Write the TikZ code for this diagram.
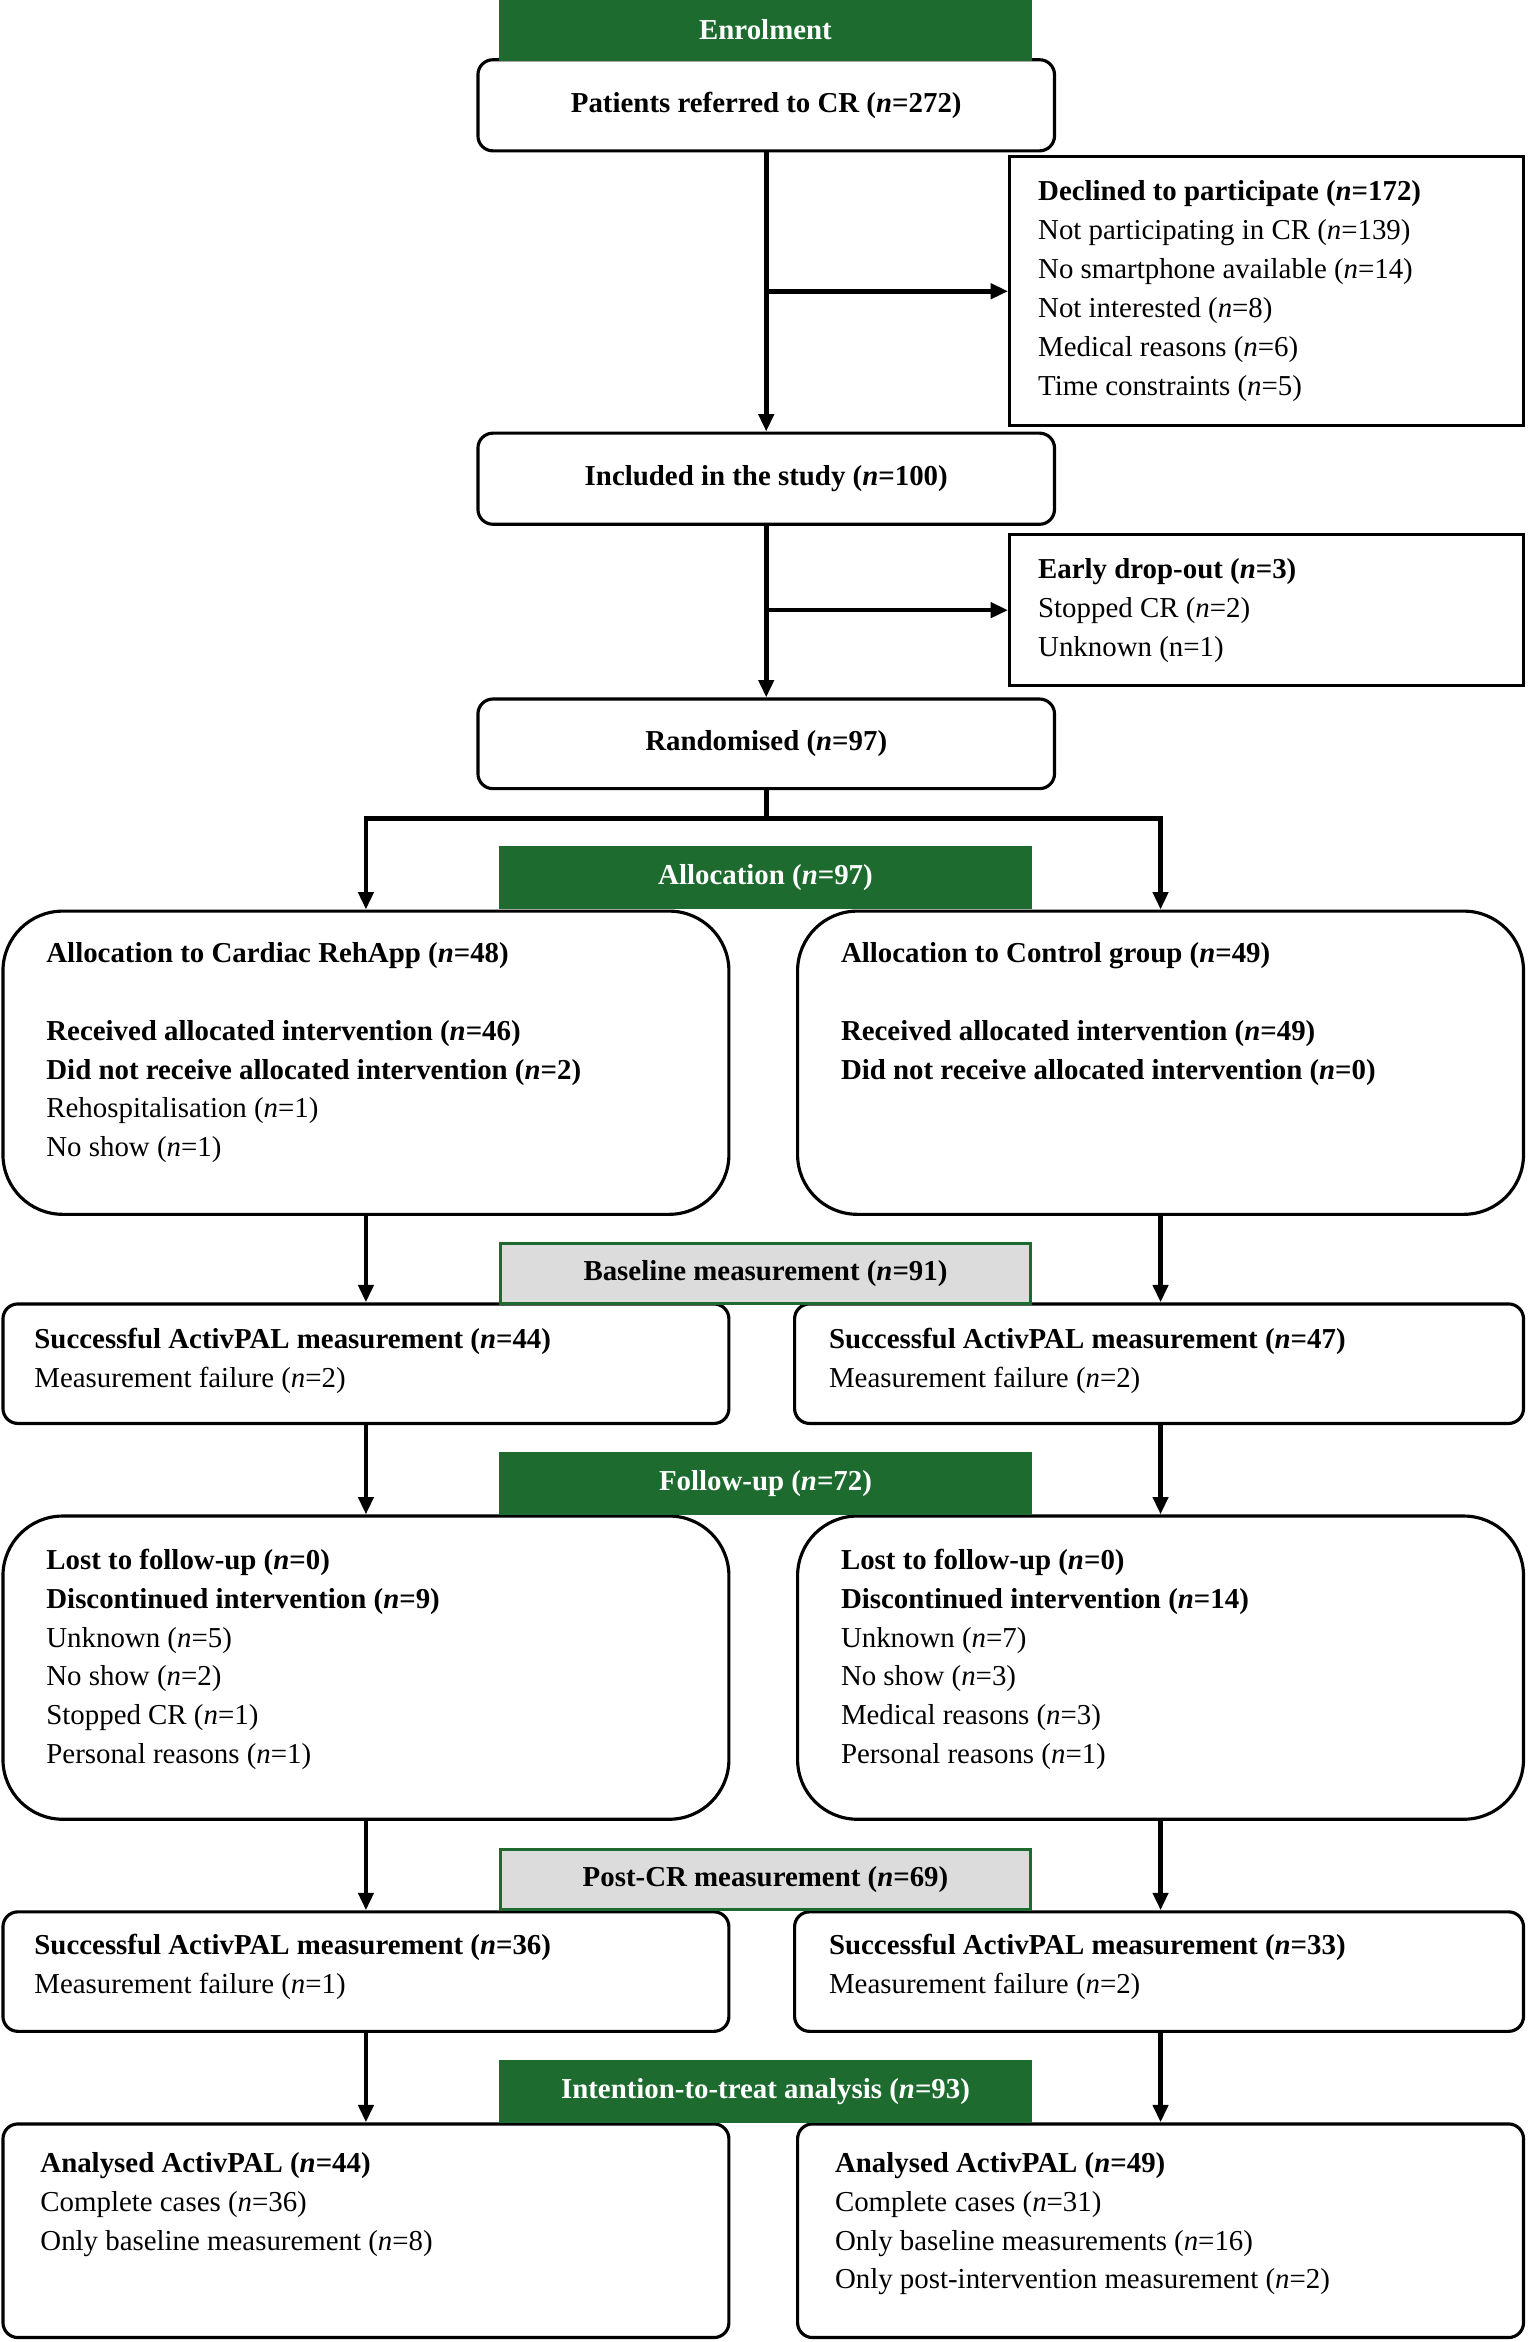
\documentclass[tikz,border=0pt]{standalone}
\usepackage{fontspec}
\setmainfont{Liberation Serif}
\usetikzlibrary{arrows.meta}
\definecolor{hdrgreen}{HTML}{1D6B2F}
\definecolor{hdrgray}{HTML}{DCDCDC}

\begin{document}
\begin{tikzpicture}[x=0.03cm,y=-0.03cm,
  line width=1.8pt,
  every node/.style={font=\fontsize{16.5}{22.2}\selectfont},
  box/.style={draw,rounded corners=0.3cm},
  bigbox/.style={draw,rounded corners=1.2cm},
  plainbox/.style={draw},
  hdr/.style={draw=hdrgreen,fill=hdrgreen,text=white,font=\fontsize{16.5}{22.2}\selectfont\bfseries,minimum width=10.65cm,minimum height=1.2cm},
  hdrg/.style={draw=hdrgreen,fill=hdrgray,font=\fontsize{16.5}{22.2}\selectfont\bfseries,minimum width=10.65cm,minimum height=1.2cm},
  txt/.style={anchor=north west,inner sep=0pt,align=left},
  conn/.style={-{Triangle[length=0.35cm,width=0.3cm]},line width=2.6pt},
  link/.style={line width=2.6pt}]
\useasboundingbox (0,0) rectangle (1024,1568);
% enrolment
\node[box,minimum width=11.58cm,minimum height=1.83cm,font=\fontsize{16.5}{22.2}\selectfont\bfseries] (referred) at (513,70.5) {Patients referred to CR (\textit{n}=272)};
\node[hdr] (enrol) at (512.5,20) {Enrolment};
\node[plainbox,minimum width=10.32cm,minimum height=5.4cm] (declined) at (848,195) {};
\node[txt] (declinedt) at (694,120) {\textbf{Declined to participate (\textit{n}=172)}\\
  Not participating in CR (\textit{n}=139)\\ No smartphone available (\textit{n}=14)\\
  Not interested (\textit{n}=8)\\ Medical reasons (\textit{n}=6)\\ Time constraints (\textit{n}=5)};
\node[box,minimum width=11.58cm,minimum height=1.83cm,font=\fontsize{16.5}{22.2}\selectfont\bfseries] (included) at (513,320.5) {Included in the study (\textit{n}=100)};
\node[plainbox,minimum width=10.32cm,minimum height=3.03cm] (dropout) at (848,408.5) {};
\node[txt] (dropoutt) at (694,373) {\textbf{Early drop-out (\textit{n}=3)}\\ Stopped CR (\textit{n}=2)\\ Unknown (n=1)};
\node[box,minimum width=11.58cm,minimum height=1.8cm,font=\fontsize{16.5}{22.2}\selectfont\bfseries] (random) at (513,498) {Randomised (\textit{n}=97)};
\coordinate (split) at (513,548);
\draw[conn] (referred) -- (included);
\draw[conn] (declined.west -| referred.south) -- (declined.west);
\draw[conn] (included) -- (random);
\draw[conn] (dropout.west -| included.south) -- (dropout.west);
\draw[link] (random) -- (split);

% allocation
\node[bigbox,minimum width=14.58cm,minimum height=6.09cm] (allocL) at (245,711.5) {};
\node[bigbox,minimum width=14.58cm,minimum height=6.09cm] (allocR) at (777,711.5) {};
\draw[conn] (split) -| (allocL);
\draw[conn] (split) -| (allocR);
\node[hdr] (allochdr) at (512.5,587.5) {Allocation (\textit{n}=97)};
\node[txt] (allocLt) at (30,630) {\textbf{Allocation to Cardiac RehApp (\textit{n}=48)}\\[22.2pt]
  \textbf{Received allocated intervention (\textit{n}=46)}\\
  \textbf{Did not receive allocated intervention (\textit{n}=2)}\\
  Rehospitalisation (\textit{n}=1)\\ No show (\textit{n}=1)};
\node[txt] (allocRt) at (562,630) {\textbf{Allocation to Control group (\textit{n}=49)}\\[22.2pt]
  \textbf{Received allocated intervention (\textit{n}=49)}\\
  \textbf{Did not receive allocated intervention (\textit{n}=0)}};

% baseline
\node[box,minimum width=14.58cm,minimum height=2.4cm] (baseL) at (245,913) {};
\node[box,minimum width=14.64cm,minimum height=2.4cm] (baseR) at (776,913) {};
\draw[conn] (allocL) -- (baseL);
\draw[conn] (allocR.south) -- (allocR.south |- baseR.north);
\node[hdrg] (basehdr) at (512.5,852.5) {Baseline measurement (\textit{n}=91)};
\node[txt] (baseLt) at (22,888) {\textbf{Successful ActivPAL measurement (\textit{n}=44)}\\ Measurement failure (\textit{n}=2)};
\node[txt] (baseRt) at (554,888) {\textbf{Successful ActivPAL measurement (\textit{n}=47)}\\ Measurement failure (\textit{n}=2)};

% follow-up
\node[bigbox,minimum width=14.58cm,minimum height=6.09cm] (fuL) at (245,1116.5) {};
\node[bigbox,minimum width=14.58cm,minimum height=6.09cm] (fuR) at (777,1116.5) {};
\draw[conn] (baseL) -- (fuL);
\draw[conn] (baseR.south -| allocR.south) -- (fuR.north);
\node[hdr] (fuhdr) at (512.5,993.5) {Follow-up (\textit{n}=72)};
\node[txt] (fuLt) at (30,1036) {\textbf{Lost to follow-up (\textit{n}=0)}\\
  \textbf{Discontinued intervention (\textit{n}=9)}\\
  Unknown (\textit{n}=5)\\ No show (\textit{n}=2)\\ Stopped CR (\textit{n}=1)\\ Personal reasons (\textit{n}=1)};
\node[txt] (fuRt) at (562,1036) {\textbf{Lost to follow-up (\textit{n}=0)}\\
  \textbf{Discontinued intervention (\textit{n}=14)}\\
  Unknown (\textit{n}=7)\\ No show (\textit{n}=3)\\ Medical reasons (\textit{n}=3)\\ Personal reasons (\textit{n}=1)};

% post-CR
\node[box,minimum width=14.58cm,minimum height=2.4cm] (postL) at (245,1320) {};
\node[box,minimum width=14.64cm,minimum height=2.4cm] (postR) at (776,1320) {};
\draw[conn] (fuL) -- (postL);
\draw[conn] (fuR.south) -- (fuR.south |- postR.north);
\node[hdrg] (posthdr) at (512.5,1258.5) {Post-CR measurement (\textit{n}=69)};
\node[txt] (postLt) at (22,1294) {\textbf{Successful ActivPAL measurement (\textit{n}=36)}\\ Measurement failure (\textit{n}=1)};
\node[txt] (postRt) at (554,1294) {\textbf{Successful ActivPAL measurement (\textit{n}=33)}\\ Measurement failure (\textit{n}=2)};

% analysis
\node[box,minimum width=14.58cm,minimum height=4.29cm] (ittL) at (245,1493.5) {};
\node[box,minimum width=14.58cm,minimum height=4.29cm] (ittR) at (777,1493.5) {};
\draw[conn] (postL) -- (ittL);
\draw[conn] (postR.south -| ittR.north) -- (ittR.north);
\node[hdr] (itthdr) at (512.5,1400.5) {Intention-to-treat analysis (\textit{n}=93)};
\node[txt] (ittLt) at (26,1440) {\textbf{Analysed ActivPAL (\textit{n}=44)}\\ Complete cases (\textit{n}=36)\\ Only baseline measurement (\textit{n}=8)};
\node[txt] (ittRt) at (558,1440) {\textbf{Analysed ActivPAL (\textit{n}=49)}\\ Complete cases (\textit{n}=31)\\ Only baseline measurements (\textit{n}=16)\\ Only post-intervention measurement (\textit{n}=2)};
\end{tikzpicture}
\end{document}
